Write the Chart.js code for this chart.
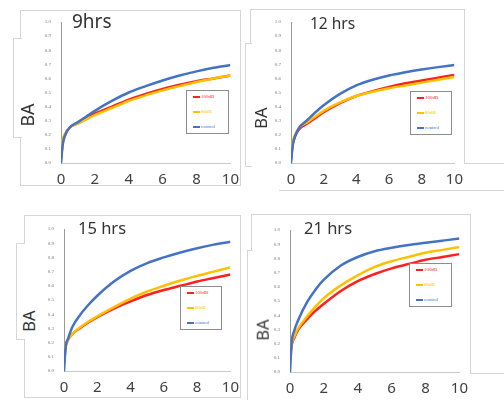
<!DOCTYPE html>
<html>
<head>
<meta charset="utf-8">
<script src="https://cdn.jsdelivr.net/npm/chart.js@4.4.1/dist/chart.umd.min.js"></script>
<style>
  html, body { margin: 0; padding: 0; background: #fff; }
  body { width: 504px; height: 400px; position: relative; overflow: hidden; font-family: "Noto Sans", sans-serif; }
  .box { position: absolute; border: 1px solid #d6d6d6; box-sizing: border-box; background: #fff; }
  .hline { position: absolute; height: 1px; background: #d6d6d6; }
  .panel { position: absolute; }
  .title { position: absolute; color: #333; line-height: 1; white-space: nowrap; }
  .ylab { position: absolute; color: #333; line-height: 1; white-space: nowrap; transform: translate(-50%, -50%) rotate(-90deg); }
  .legend { position: absolute; border: 1px solid #8c8c8c; background: #fff; box-sizing: border-box; }
  .legend .item { position: absolute; left: 6px; height: 6px; line-height: 6px; font: 5px "Liberation Serif", serif; white-space: nowrap; }
  .legend .swatch { display: inline-block; width: 7px; height: 2px; vertical-align: middle; margin-right: 1px; }
</style>
</head>
<body>

<!-- grey frames around the four pasted panels -->
<div class="box" style="left:20px;top:10px;width:221px;height:176px"></div>
<div class="box" style="left:13px;top:38px;width:9px;height:100px;border-right:none"></div>

<div class="box" style="left:250px;top:9px;width:215px;height:155px;border-bottom:none"></div>
<div class="box" style="left:245px;top:43px;width:7px;height:124px;border-right:none"></div>
<div class="hline" style="left:464px;top:163px;width:40px"></div>
<div class="hline" style="left:279px;top:190px;width:225px"></div>

<div class="box" style="left:24px;top:215px;width:217px;height:183px"></div>
<div class="box" style="left:16px;top:243px;width:9px;height:97px;border-right:none"></div>

<div class="box" style="left:251px;top:214px;width:220px;height:160px;border-bottom:none"></div>
<div class="box" style="left:247px;top:250px;width:6px;height:150px;border-right:none;border-bottom:none"></div>
<div class="hline" style="left:470px;top:373px;width:34px"></div>

<div id="charts"></div>

<script>
// hours on the x axis (sample points)
const xHours = [0, 0.1, 0.25, 0.5, 1, 1.5, 2, 3, 4, 5, 6, 7, 8, 9, 10];

const seriesNames = ['100dB', '80dB', 'control'];
const seriesColors = ['#ff1f1f', '#ffc000', '#4472c4'];
const seriesOrder = [2, 1, 0]; // control drawn on top, then 80dB

const panelTitles = ['9hrs', '12 hrs', '15 hrs', '21 hrs'];
const yAxisLabel = 'BA';

// 9 hrs
const ba9h100  = [0.02, 0.14, 0.20, 0.25, 0.28, 0.315, 0.35, 0.40, 0.45, 0.49, 0.525, 0.555, 0.58, 0.60, 0.62];
const ba9h80   = [0.11, 0.17, 0.21, 0.25, 0.28, 0.31, 0.34, 0.39, 0.44, 0.48, 0.515, 0.545, 0.575, 0.60, 0.62];
const ba9hCtrl = [0.00, 0.13, 0.20, 0.25, 0.29, 0.33, 0.37, 0.44, 0.50, 0.545, 0.585, 0.62, 0.65, 0.675, 0.695];

// 12 hrs
const ba12h100  = [0.02, 0.13, 0.19, 0.24, 0.28, 0.32, 0.36, 0.425, 0.475, 0.51, 0.54, 0.565, 0.585, 0.605, 0.625];
const ba12h80   = [0.08, 0.15, 0.20, 0.25, 0.29, 0.33, 0.37, 0.43, 0.475, 0.505, 0.53, 0.55, 0.57, 0.59, 0.61];
const ba12hCtrl = [0.00, 0.12, 0.19, 0.25, 0.305, 0.36, 0.41, 0.49, 0.55, 0.59, 0.62, 0.643, 0.663, 0.68, 0.695];

// 15 hrs
const ba15h100  = [0.05, 0.17, 0.22, 0.26, 0.305, 0.345, 0.38, 0.44, 0.49, 0.535, 0.57, 0.60, 0.63, 0.655, 0.68];
const ba15h80   = [0.12, 0.18, 0.22, 0.26, 0.31, 0.35, 0.385, 0.45, 0.51, 0.56, 0.60, 0.637, 0.67, 0.70, 0.73];
const ba15hCtrl = [0.00, 0.17, 0.23, 0.31, 0.40, 0.47, 0.53, 0.63, 0.705, 0.76, 0.80, 0.835, 0.865, 0.89, 0.91];

// 21 hrs
const ba21h100  = [0.08, 0.19, 0.24, 0.30, 0.37, 0.43, 0.48, 0.57, 0.64, 0.69, 0.73, 0.76, 0.79, 0.81, 0.83];
const ba21h80   = [0.10, 0.20, 0.25, 0.31, 0.39, 0.46, 0.52, 0.61, 0.68, 0.74, 0.78, 0.81, 0.84, 0.86, 0.88];
const ba21hCtrl = [0.00, 0.21, 0.29, 0.37, 0.49, 0.58, 0.65, 0.75, 0.81, 0.85, 0.875, 0.895, 0.91, 0.925, 0.94];

const panelSeries = [
  [ba9h100, ba9h80, ba9hCtrl],
  [ba12h100, ba12h80, ba12hCtrl],
  [ba15h100, ba15h80, ba15hCtrl],
  [ba21h100, ba21h80, ba21hCtrl]
];

// where each plot sits on the page: chart area, title, axis label, legend box
const Y_AXIS_W = 24, PAD_TOP = 6, PAD_RIGHT = 12, X_AXIS_H = 26;
const layout = [
  { area: [61, 235, 15, 163],  title: [72, 11.7, 19],   ba: [27, 115, 18],   legend: [186, 90, 43, 44] },
  { area: [291, 459, 15, 163], title: [310, 15.6, 15.5], ba: [261, 118, 16.5], legend: [410, 91, 42, 44] },
  { area: [64, 235, 222, 371], title: [78, 219.8, 16.5], ba: [29, 321, 16.5], legend: [180, 286, 42, 44] },
  { area: [290, 464, 223, 372], title: [304, 220.4, 16.5], ba: [263, 330, 16.5], legend: [409, 263, 43, 44] }
];

function buildPanel(i) {
  const root = document.getElementById('charts');
  const lay = layout[i];
  const [l, r, t, b] = lay.area;

  const wrap = document.createElement('div');
  wrap.className = 'panel';
  wrap.style.left = (l - Y_AXIS_W) + 'px';
  wrap.style.top = (t - PAD_TOP) + 'px';
  wrap.style.width = (r - l + Y_AXIS_W + PAD_RIGHT) + 'px';
  wrap.style.height = (b - t + PAD_TOP + X_AXIS_H) + 'px';
  const canvas = document.createElement('canvas');
  wrap.appendChild(canvas);
  root.appendChild(wrap);

  const title = document.createElement('div');
  title.className = 'title';
  title.textContent = panelTitles[i];
  title.style.left = lay.title[0] + 'px';
  title.style.top = lay.title[1] + 'px';
  title.style.fontSize = lay.title[2] + 'px';
  root.appendChild(title);

  const ba = document.createElement('div');
  ba.className = 'ylab';
  ba.textContent = yAxisLabel;
  ba.style.left = lay.ba[0] + 'px';
  ba.style.top = lay.ba[1] + 'px';
  ba.style.fontSize = lay.ba[2] + 'px';
  root.appendChild(ba);

  const legend = document.createElement('div');
  legend.className = 'legend';
  legend.style.left = lay.legend[0] + 'px';
  legend.style.top = lay.legend[1] + 'px';
  legend.style.width = lay.legend[2] + 'px';
  legend.style.height = lay.legend[3] + 'px';
  seriesNames.forEach((name, k) => {
    const item = document.createElement('div');
    item.className = 'item';
    item.style.top = (3 + k * 15) + 'px';
    item.style.color = seriesColors[k];
    item.innerHTML = '<span class="swatch" style="background:' + seriesColors[k] + '"></span>' + name;
    legend.appendChild(item);
  });
  root.appendChild(legend);

  new Chart(canvas, {
    type: 'line',
    data: {
      datasets: seriesNames.map((name, k) => ({
        label: name,
        data: xHours.map((x, j) => ({ x: x, y: panelSeries[i][k][j] })),
        borderColor: seriesColors[k],
        backgroundColor: seriesColors[k],
        borderWidth: 2.5,
        pointRadius: 0,
        fill: false,
        cubicInterpolationMode: 'monotone',
        order: seriesOrder[k]
      }))
    },
    options: {
      responsive: true,
      maintainAspectRatio: false,
      animation: false,
      layout: { padding: { top: PAD_TOP, right: PAD_RIGHT, left: 0, bottom: 0 } },
      plugins: { legend: { display: false }, tooltip: { enabled: false } },
      scales: {
        x: {
          type: 'linear', min: 0, max: 10,
          ticks: { stepSize: 2, padding: 8, maxRotation: 0, color: '#404040', font: { family: '"Noto Sans"', size: 15 } },
          grid: { display: false, drawTicks: false },
          border: { color: '#c8c8c8' },
          afterFit: s => { s.height = X_AXIS_H; }
        },
        y: {
          min: 0, max: 1,
          ticks: { stepSize: 0.1, padding: 10, color: '#777', font: { family: '"Liberation Serif"', size: 5 },
                   callback: v => v.toFixed(1) },
          grid: { display: false, drawTicks: false },
          border: { color: '#9a9a9a' },
          afterFit: s => { s.width = Y_AXIS_W; }
        }
      }
    }
  });
}

document.addEventListener('DOMContentLoaded', () => {
  for (let i = 0; i < 4; i++) buildPanel(i);
});
</script>
</body>
</html>
